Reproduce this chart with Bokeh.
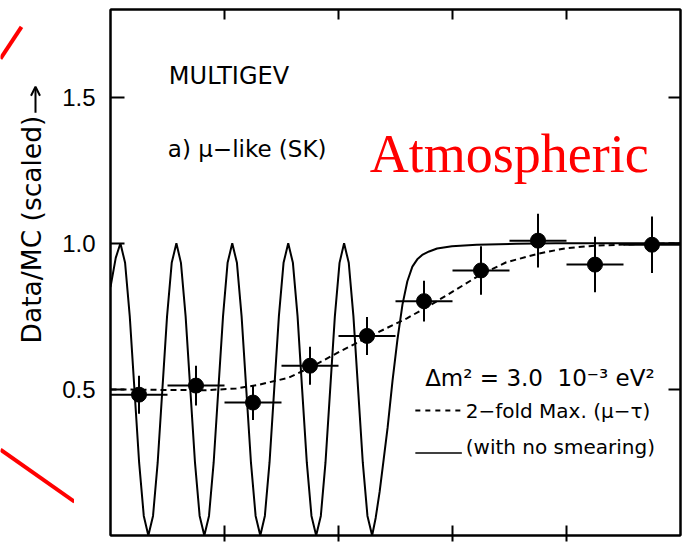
import math
from bokeh.plotting import figure
from bokeh.layouts import row
from bokeh.models import (Range1d, LinearAxis, FixedTicker, Label, ColumnDataSource,
                          CustomLabelingPolicy, Arrow, OpenHead)
from bokeh.embed import file_html
from bokeh.resources import INLINE

# ---- data ----
bin_x = [0.25, 0.75, 1.25, 1.75, 2.25, 2.75, 3.25, 3.75, 4.25, 4.75]
bin_halfwidth = [0.25] * 10
data_y = [0.482, 0.513, 0.455, 0.581, 0.683, 0.802, 0.907, 1.009, 0.927, 0.995]
data_err = [0.065, 0.068, 0.060, 0.065, 0.065, 0.070, 0.083, 0.092, 0.095, 0.097]

# solid curve (no smearing)
solid_x = [0.000, 0.046, 0.087, 0.128, 0.169, 0.210, 0.251, 0.292, 0.332, 0.373, 0.414, 0.455,
           0.496, 0.537, 0.578, 0.618, 0.659, 0.700, 0.741, 0.782, 0.823, 0.864, 0.905, 0.946,
           0.987, 1.027, 1.068, 1.109, 1.150, 1.191, 1.232, 1.273, 1.314, 1.354, 1.395, 1.436,
           1.477, 1.518, 1.559, 1.600, 1.641, 1.681, 1.722, 1.763, 1.804, 1.845, 1.886, 1.927,
           1.968, 2.009, 2.049, 2.090, 2.131, 2.172, 2.213, 2.254, 2.295, 2.326, 2.361, 2.396,
           2.431, 2.474, 2.517, 2.561, 2.604, 2.648, 2.691, 2.734, 2.795, 2.865, 2.995, 3.212,
           3.559, 3.906, 5.000]
solid_y = [0.850, 0.950, 1.000, 0.933, 0.750, 0.500, 0.250, 0.067, 0.000, 0.067, 0.250, 0.500,
           0.750, 0.933, 1.000, 0.933, 0.750, 0.500, 0.250, 0.067, 0.000, 0.067, 0.250, 0.500,
           0.750, 0.933, 1.000, 0.933, 0.750, 0.500, 0.250, 0.067, 0.000, 0.067, 0.250, 0.500,
           0.750, 0.933, 1.000, 0.933, 0.750, 0.500, 0.250, 0.067, 0.000, 0.067, 0.250, 0.500,
           0.750, 0.933, 1.000, 0.933, 0.750, 0.500, 0.250, 0.067, 0.000, 0.060, 0.150, 0.260,
           0.370, 0.530, 0.670, 0.790, 0.870, 0.920, 0.945, 0.960, 0.972, 0.982, 0.990, 0.995,
           0.998, 1.000, 1.000]

# dashed curve (2-fold max.)
dash_x = [0.000, 0.521, 0.825, 1.102, 1.302, 1.563, 1.797, 2.023, 2.318, 2.604, 2.804, 3.012,
          3.247, 3.472, 3.759, 3.993, 4.253, 4.601, 5.000]
dash_y = [0.500, 0.498, 0.497, 0.503, 0.516, 0.540, 0.584, 0.632, 0.690, 0.744, 0.788, 0.837,
          0.893, 0.935, 0.965, 0.983, 0.992, 0.997, 1.000]

ytick_vals = [0.5, 1.0, 1.5]
ytick_labels = ["0.5", "1.0", "1.5"]
xtick_vals = [1, 2, 3, 4]

title1 = "MULTIGEV"
title2 = "a) \u03bc\u2212like (SK)"
big_label = "Atmospheric"
legend_head = "\u0394m\u00b2 = 3.0\u00a0 10\u207b\u00b3 eV\u00b2"
legend_dash = "2\u2212fold Max. (\u03bc\u2212\u03c4)"
legend_solid = "(with no smearing)"
ylabel = "Data/MC (scaled)"

# red decoration strokes in the left margin (margin pixel coordinates)
red_x0 = [0, 0]
red_y0 = [51, 456]
red_x1 = [21, 74]
red_y1 = [18, 510]

# ---- left margin panel (y-title, its arrow and red strokes) ----
LW = 74
p0 = figure(width=LW, height=545, output_backend="svg", toolbar_location=None,
            x_range=Range1d(0, LW), y_range=Range1d(545, 0),
            x_axis_location=None, y_axis_location=None, min_border=0,
            background_fill_color="white", border_fill_color="white")
p0.outline_line_color = None
p0.grid.visible = False
p0.segment(x0=red_x0, y0=red_y0, x1=red_x1, y1=red_y1, line_color="#ff0000", line_width=4)
p0.text(x=[31], y=[228], text=[ylabel], angle=math.pi / 2, text_align="center",
        text_baseline="middle", text_font={"value": "DejaVu Sans"}, text_font_size="26.5px",
        text_color="black")
p0.add_layout(Arrow(x_start=35, y_start=107, x_end=35, y_end=80,
                    end=OpenHead(size=9, line_width=2, line_color="black"),
                    line_width=2, line_color="black"))

# ---- main figure (slid over the right part of the margin panel) ----
p = figure(width=625, height=545, output_backend="svg", toolbar_location=None,
           x_range=Range1d(0, 5), y_range=Range1d(0, 1.8),
           min_border_left=48, min_border_right=1, min_border_top=9, min_border_bottom=6,
           background_fill_color="white", border_fill_color="white", border_fill_alpha=0)
p.margin = (0, 0, 0, -15)
p.outline_line_color = "black"
p.outline_line_width = 2
p.xgrid.visible = False
p.ygrid.visible = False

lab_font = "Liberation Sans"
txt_font = "DejaVu Sans"

no_labels = CustomLabelingPolicy(code="for (const i of indices) { indices.unset(i) }\nreturn indices")

# left axis
ya = p.yaxis[0]
ya.ticker = FixedTicker(ticks=ytick_vals)
ya.major_label_overrides = {v: s for v, s in zip(ytick_vals, ytick_labels)}
ya.major_tick_in = 14
ya.major_tick_out = 0
ya.minor_tick_line_color = None
ya.major_tick_line_width = 2
ya.axis_line_width = 2
ya.major_label_standoff = 15
ya.major_label_text_font = lab_font
ya.major_label_text_font_size = "24px"
ya.major_label_text_color = "black"

# bottom axis
xa = p.xaxis[0]
xa.ticker = FixedTicker(ticks=xtick_vals)
xa.major_tick_in = 10
xa.major_tick_out = 6
xa.minor_tick_line_color = None
xa.major_tick_line_width = 2
xa.axis_line_width = 2
xa.major_label_text_font_size = "1px"
xa.major_label_standoff = 0
xa.major_label_policy = no_labels

# top axis
ta = LinearAxis(ticker=FixedTicker(ticks=xtick_vals), major_tick_in=10, major_tick_out=0,
                minor_tick_line_color=None, major_tick_line_width=2, axis_line_width=2,
                major_label_text_font_size="1px", major_label_standoff=0,
                major_label_policy=no_labels)
p.add_layout(ta, "above")
# right axis
ra = LinearAxis(ticker=FixedTicker(ticks=ytick_vals), major_tick_in=12, major_tick_out=0,
                minor_tick_line_color=None, major_tick_line_width=2, axis_line_width=2,
                major_label_text_font_size="1px", major_label_standoff=0,
                major_label_policy=no_labels)
p.add_layout(ra, "right")

# curves
p.line(solid_x, solid_y, line_color="black", line_width=2)
p.line(dash_x, dash_y, line_color="black", line_width=2, line_dash="6 4")

# data points with error bars
src = ColumnDataSource(dict(
    x=bin_x, y=data_y,
    x0=[x - w for x, w in zip(bin_x, bin_halfwidth)],
    x1=[x + w for x, w in zip(bin_x, bin_halfwidth)],
    y0=[y - e for y, e in zip(data_y, data_err)],
    y1=[y + e for y, e in zip(data_y, data_err)],
))
p.segment(x0="x0", y0="y", x1="x1", y1="y", source=src, line_color="black", line_width=2)
p.segment(x0="x", y0="y0", x1="x", y1="y1", source=src, line_color="black", line_width=2)
p.scatter(x="x", y="y", source=src, size=15, color="black")

# legend lines
p.line([2.674, 3.082], [0.428, 0.428], line_color="black", line_width=2, line_dash="5 5")
p.line([2.674, 3.082], [0.282, 0.282], line_color="black", line_width=1.5)

# texts
def add_label(x, y, text, size, font=txt_font, color="black", style="normal"):
    p.add_layout(Label(x=x, y=y, text=text, text_font=font, text_font_size=size,
                       text_color=color, text_align="left", text_baseline="alphabetic",
                       text_font_style=style))

add_label(0.512, 1.5727, title1, "24px")
add_label(0.503, 1.3213, title2, "23px")
add_label(2.274, 1.3043, big_label, "54px", font="Liberation Serif", color="#ff0000")
add_label(2.760, 0.540, legend_head, "23px")
add_label(3.116, 0.4246, legend_dash, "20px")
add_label(3.116, 0.302, legend_solid, "20px")

open("out.html", "w").write(file_html(row(p0, p), INLINE))
